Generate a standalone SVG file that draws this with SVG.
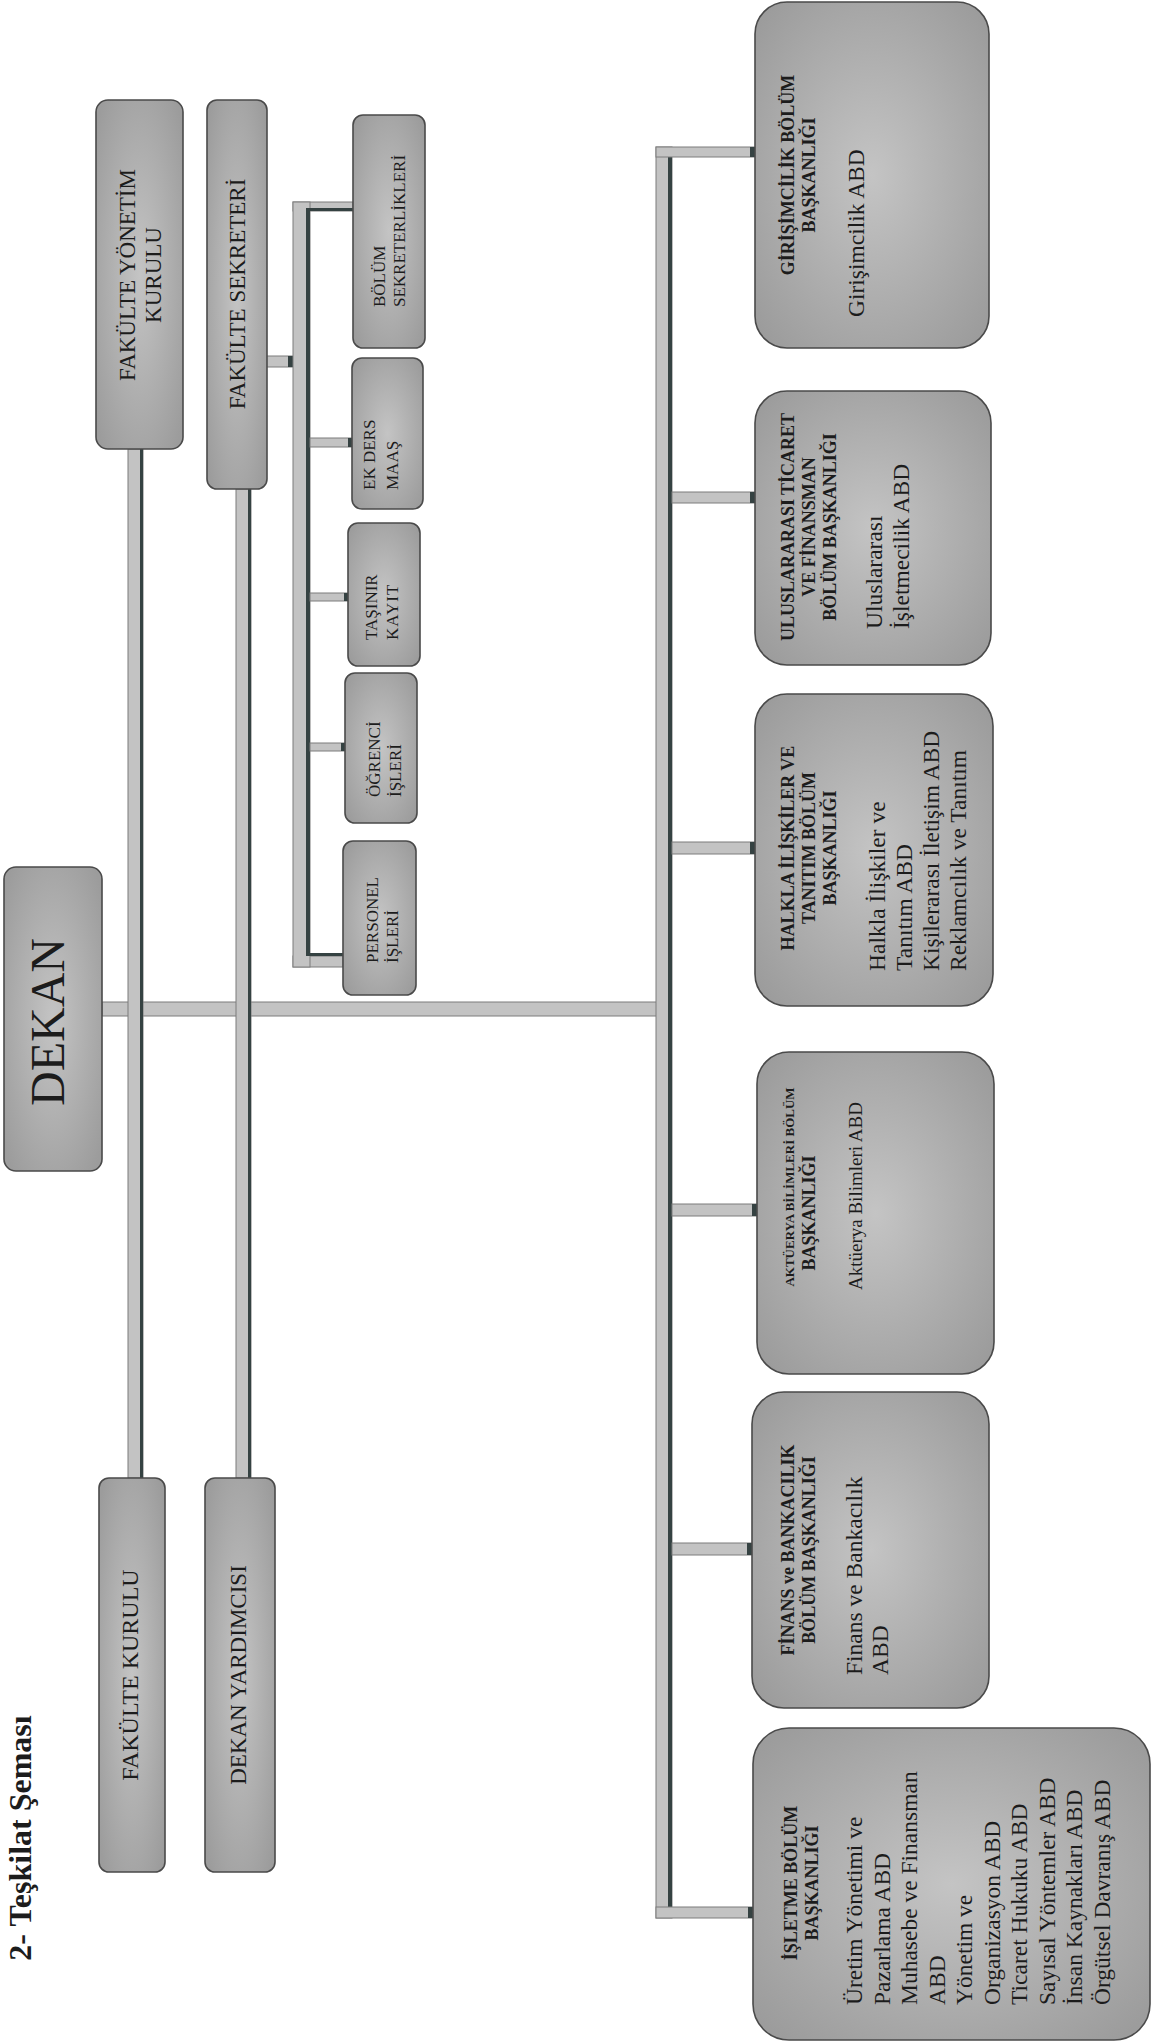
<svg xmlns="http://www.w3.org/2000/svg" width="1152" height="2043" viewBox="0 0 1152 2043">
<defs>
<radialGradient id="gBox" cx="50%" cy="50%" r="65%">
<stop offset="0" stop-color="#c4c4c4"/>
<stop offset="1" stop-color="#9c9c9c"/>
</radialGradient>
<style>
.box{fill:url(#gBox);stroke:#4a4a4a;stroke-width:1.6}
.bar{fill:#c3c3c3;stroke:#7d7d7d;stroke-width:1}
.edge{fill:#354242}
.t{font-family:"Liberation Serif","Times New Roman",serif;fill:#1c1c1c}
.b{font-weight:bold}
</style>
</defs>
<rect width="1152" height="2043" fill="#ffffff"/>
<text class="t b" font-size="32" text-anchor="middle" transform="translate(31,1838) rotate(-90)">2- Teşkilat Şeması</text>
<g id="connectors">
<rect class="bar" x="102" y="1002" width="556" height="14"/>
<rect class="bar" x="128" y="449" width="15" height="1029"/>
<rect class="edge" x="140" y="449" width="3" height="1029"/>
<rect class="bar" x="236" y="489" width="15" height="989"/>
<rect class="edge" x="248" y="489" width="3" height="989"/>
<rect class="bar" x="265" y="356" width="28" height="11"/>
<rect class="edge" x="288" y="356" width="5" height="11"/>
<rect class="bar" x="293" y="202" width="60" height="9"/>
<rect class="bar" x="293" y="956" width="50" height="11"/>
<rect class="bar" x="293" y="202" width="17" height="765"/>
<rect class="edge" x="306" y="211" width="4" height="745"/>
<rect class="edge" x="306" y="953" width="37" height="3"/>
<rect class="edge" x="306" y="208" width="47" height="3"/>
<rect class="bar" x="310" y="438" width="42" height="9"/>
<rect class="edge" x="348" y="438" width="4" height="9"/>
<rect class="bar" x="310" y="593" width="38" height="8"/>
<rect class="edge" x="344" y="593" width="4" height="8"/>
<rect class="bar" x="310" y="743" width="35" height="8"/>
<rect class="edge" x="341" y="743" width="4" height="8"/>
<rect class="bar" x="656" y="147" width="16" height="1771"/>
<rect class="edge" x="668" y="157" width="4" height="1750"/>
<rect class="bar" x="656" y="147" width="99" height="10"/>
<rect class="edge" x="750" y="147" width="5" height="10"/>
<rect class="bar" x="672" y="492" width="83" height="11"/>
<rect class="edge" x="750" y="492" width="5" height="11"/>
<rect class="bar" x="672" y="842" width="83" height="12"/>
<rect class="edge" x="750" y="842" width="5" height="12"/>
<rect class="bar" x="672" y="1204" width="85" height="12"/>
<rect class="edge" x="752" y="1204" width="5" height="12"/>
<rect class="bar" x="672" y="1543" width="80" height="12"/>
<rect class="edge" x="747" y="1543" width="5" height="12"/>
<rect class="bar" x="656" y="1907" width="97" height="11"/>
<rect class="edge" x="748" y="1907" width="5" height="11"/>
</g>
<g id="fakulte-yonetim-kurulu">
<rect class="box" x="96" y="100" width="87" height="349" rx="12"/>
<text class="t" font-size="23" text-anchor="middle" transform="translate(135,275) rotate(-90)"><tspan x="0" y="0">FAKÜLTE YÖNETİM</tspan><tspan x="0" y="26">KURULU</tspan></text>
</g>
<g id="fakulte-sekreteri">
<rect class="box" x="207" y="100" width="60" height="389" rx="10"/>
<text class="t" font-size="23" text-anchor="middle" transform="translate(245,294) rotate(-90)">FAKÜLTE SEKRETERİ</text>
</g>
<g id="bolum-sekreterlikleri">
<rect class="box" x="353" y="115" width="72" height="233" rx="10"/>
<text class="t" font-size="17" transform="translate(385,307) rotate(-90)"><tspan x="0" y="0">BÖLÜM</tspan><tspan x="0" y="20">SEKRETERLİKLERİ</tspan></text>
</g>
<g id="ek-ders-maas">
<rect class="box" x="352" y="358" width="71" height="151" rx="10"/>
<text class="t" font-size="17" transform="translate(375,490) rotate(-90)"><tspan x="0" y="0">EK DERS</tspan><tspan x="0" y="23">MAAŞ</tspan></text>
</g>
<g id="tasinir-kayit">
<rect class="box" x="348" y="523" width="72" height="143" rx="10"/>
<text class="t" font-size="17" transform="translate(377,640) rotate(-90)"><tspan x="0" y="0">TAŞINIR</tspan><tspan x="0" y="21" letter-spacing="1">KAYIT</tspan></text>
</g>
<g id="ogrenci-isleri">
<rect class="box" x="345" y="673" width="72" height="150" rx="10"/>
<text class="t" font-size="17" transform="translate(380,797) rotate(-90)"><tspan x="0" y="0">ÖĞRENCİ</tspan><tspan x="0" y="21">İŞLERİ</tspan></text>
</g>
<g id="personel-isleri">
<rect class="box" x="343" y="841" width="73" height="154" rx="10"/>
<text class="t" font-size="17" transform="translate(378,963) rotate(-90)"><tspan x="0" y="0">PERSONEL</tspan><tspan x="0" y="20">İŞLERİ</tspan></text>
</g>
<g id="dekan">
<rect class="box" x="4" y="867" width="98" height="304" rx="12"/>
<text class="t" font-size="48" text-anchor="middle" transform="translate(64,1022) rotate(-90)">DEKAN</text>
</g>
<g id="fakulte-kurulu">
<rect class="box" x="99" y="1478" width="66" height="394" rx="10"/>
<text class="t" font-size="24" text-anchor="middle" transform="translate(138,1675) rotate(-90)">FAKÜLTE KURULU</text>
</g>
<g id="dekan-yardimcisi">
<rect class="box" x="205" y="1478" width="70" height="394" rx="10"/>
<text class="t" font-size="23" text-anchor="middle" transform="translate(246,1675) rotate(-90)">DEKAN YARDIMCISI</text>
</g>
<g id="girisimcilik">
<rect class="box" x="755" y="2" width="234" height="346" rx="32"/>
<text class="t b" font-size="18" text-anchor="middle" transform="translate(794,175) rotate(-90)"><tspan x="0" y="0">GİRİŞİMCİLİK BÖLÜM</tspan><tspan x="0" y="21">BAŞKANLIĞI</tspan></text>
<text class="t" font-size="23.5" transform="translate(864,317) rotate(-90)">Girişimcilik ABD</text>
</g>
<g id="uluslararasi">
<rect class="box" x="755" y="391" width="236" height="274" rx="32"/>
<text class="t b" font-size="18" text-anchor="middle" transform="translate(794,527) rotate(-90)"><tspan x="0" y="0">ULUSLARARASI TİCARET</tspan><tspan x="0" y="21">VE FİNANSMAN</tspan><tspan x="0" y="42">BÖLÜM BAŞKANLIĞI</tspan></text>
<text class="t" font-size="23.5" transform="translate(882,629) rotate(-90)"><tspan x="0" y="0">Uluslararası</tspan><tspan x="0" y="27">İşletmecilik ABD</tspan></text>
</g>
<g id="halkla-iliskiler">
<rect class="box" x="755" y="694" width="238" height="312" rx="32"/>
<text class="t b" font-size="18" text-anchor="middle" transform="translate(794,848) rotate(-90)"><tspan x="0" y="0">HALKLA İLİŞKİLER VE</tspan><tspan x="0" y="21">TANITIM BÖLÜM</tspan><tspan x="0" y="42">BAŞKANLIĞI</tspan></text>
<text class="t" font-size="23.5" transform="translate(885,971) rotate(-90)"><tspan x="0" y="0">Halkla İlişkiler ve</tspan><tspan x="0" y="27">Tanıtım ABD</tspan><tspan x="0" y="54">Kişilerarası İletişim ABD</tspan><tspan x="0" y="81">Reklamcılık ve Tanıtım</tspan></text>
</g>
<g id="akturya">
<rect class="box" x="757" y="1052" width="237" height="322" rx="32"/>
<text class="t b" font-size="13" text-anchor="middle" transform="translate(794,1187) rotate(-90)">AKTÜERYA BİLİMLERİ BÖLÜM</text>
<text class="t b" font-size="18" text-anchor="middle" transform="translate(815,1213) rotate(-90)">BAŞKANLIĞI</text>
<text class="t" font-size="19" transform="translate(862,1290) rotate(-90)">Aktüerya Bilimleri ABD</text>
</g>
<g id="finans-bankacilik">
<rect class="box" x="752" y="1392" width="237" height="316" rx="32"/>
<text class="t b" font-size="18" text-anchor="middle" transform="translate(794,1550) rotate(-90)"><tspan x="0" y="0">FİNANS ve BANKACILIK</tspan><tspan x="0" y="21">BÖLÜM BAŞKANLIĞI</tspan></text>
<text class="t" font-size="23.5" transform="translate(862,1675) rotate(-90)"><tspan x="0" y="0">Finans ve Bankacılık</tspan><tspan x="0" y="26">ABD</tspan></text>
</g>
<g id="isletme">
<rect class="box" x="753" y="1728" width="397" height="312" rx="36"/>
<text class="t b" font-size="18" text-anchor="middle" transform="translate(797,1883) rotate(-90)"><tspan x="0" y="0">İŞLETME BÖLÜM</tspan><tspan x="0" y="21">BAŞKANLIĞI</tspan></text>
<text class="t" font-size="23.5" transform="translate(862,2005) rotate(-90)"><tspan x="0" y="0">Üretim Yönetimi ve</tspan><tspan x="0" y="27.5">Pazarlama ABD</tspan><tspan x="0" y="55">Muhasebe ve Finansman</tspan><tspan x="0" y="82.5">ABD</tspan><tspan x="0" y="110">Yönetim ve</tspan><tspan x="0" y="137.5">Organizasyon ABD</tspan><tspan x="0" y="165">Ticaret Hukuku ABD</tspan><tspan x="0" y="192.5">Sayısal Yöntemler ABD</tspan><tspan x="0" y="220">İnsan Kaynakları ABD</tspan><tspan x="0" y="247.5">Örgütsel Davranış ABD</tspan></text>
</g>
</svg>
